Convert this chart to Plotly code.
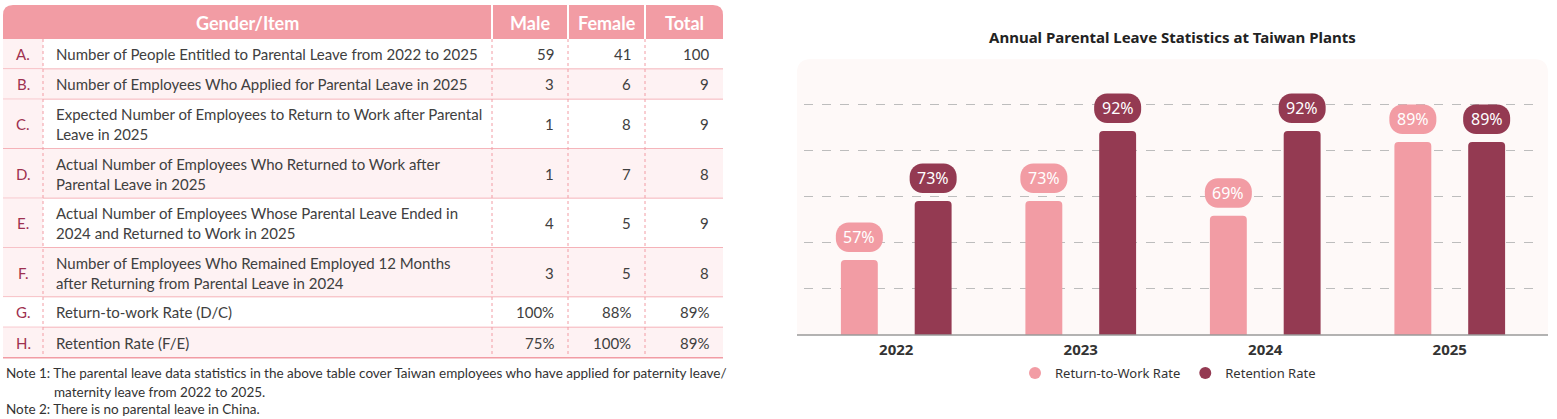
import plotly.graph_objects as go

W, H = 1557, 419

# ---------------- data ----------------
years = ["2022", "2023", "2024", "2025"]
return_rate = [57, 73, 69, 89]
retention_rate = [73, 92, 92, 89]
series_names = ["Return-to-Work Rate", "Retention Rate"]
chart_title = "Annual Parental Leave Statistics at Taiwan Plants"

header_labels = ["Gender/Item", "Male", "Female", "Total"]
row_letters = ["A.", "B.", "C.", "D.", "E.", "F.", "G.", "H."]
row_items = [
    ["Number of People Entitled to Parental Leave from 2022 to 2025"],
    ["Number of Employees Who Applied for Parental Leave in 2025"],
    ["Expected Number of Employees to Return to Work after Parental", "Leave in 2025"],
    ["Actual Number of Employees Who Returned to Work after", "Parental Leave in 2025"],
    ["Actual Number of Employees Whose Parental Leave Ended in", "2024 and Returned to Work in 2025"],
    ["Number of Employees Who Remained Employed 12 Months", "after Returning from Parental Leave in 2024"],
    ["Return-to-work Rate (D/C)"],
    ["Retention Rate (F/E)"],
]
male_values = ["59", "3", "1", "1", "4", "3", "100%", "75%"]
female_values = ["41", "6", "8", "7", "5", "5", "88%", "100%"]
total_values = ["100", "9", "9", "8", "9", "8", "89%", "89%"]
notes = [
    "Note 1: The parental leave data statistics in the above table cover Taiwan employees who have applied for paternity leave/",
    "maternity leave from 2022 to 2025.",
    "Note 2: There is no parental leave in China.",
]

# ---------------- styles ----------------
PINK = "#F29CA4"
DARK = "#943A52"
ROW_PINK = "#FEF2F3"
LETTER = "#9E3150"
TXT = "#404040"
TFONT = "Lato"
CFONT = "Noto Sans"


def X(px):
    return px / W


def Y(py):
    return 1 - py / H


shapes = []
annotations = []

# ---------------- table ----------------
tx0, tx1 = 3, 723
col_edges = [3, 43, 492, 568, 645, 723]
head_top, head_bot = 5, 39
line_h_single, line_h_double = 30.3, 49.4

# header with rounded top corners
r = 10
shapes.append(dict(
    type="path", xref="paper", yref="paper", layer="below",
    path=(f"M {X(tx0)},{Y(head_bot)} L {X(tx0)},{Y(head_top + r)} "
          f"Q {X(tx0)},{Y(head_top)} {X(tx0 + r)},{Y(head_top)} "
          f"L {X(tx1 - r)},{Y(head_top)} Q {X(tx1)},{Y(head_top)} {X(tx1)},{Y(head_top + r)} "
          f"L {X(tx1)},{Y(head_bot)} Z"),
    fillcolor=PINK, line=dict(width=0)))
for cx in col_edges[2:5]:
    shapes.append(dict(type="line", xref="paper", yref="paper", layer="below",
                       x0=X(cx), x1=X(cx), y0=Y(head_top), y1=Y(head_bot),
                       line=dict(color="white", width=2)))
head_centers = [(col_edges[0] + col_edges[2]) / 2] + [
    (col_edges[i] + col_edges[i + 1]) / 2 for i in range(2, 5)]
for lab, cx in zip(header_labels, head_centers):
    annotations.append(dict(text=f"<b>{lab}</b>", xref="paper", yref="paper",
                            x=X(cx), y=Y((head_top + head_bot) / 2 + 1), showarrow=False,
                            xanchor="center", yanchor="middle",
                            font=dict(family=TFONT, size=18, color="white")))

# body rows
y = head_bot
for i, item in enumerate(row_items):
    h = line_h_single if len(item) == 1 else line_h_double
    top, bot = y, y + h
    mid = (top + bot) / 2
    row_fill = ROW_PINK if i % 2 == 1 else "white"
    shapes.append(dict(type="rect", xref="paper", yref="paper", layer="below",
                       x0=X(tx0), x1=X(tx1), y0=Y(top), y1=Y(bot),
                       fillcolor=row_fill, line=dict(width=0)))
    letter_fill = "white" if row_letters[i] == "G." else ROW_PINK
    shapes.append(dict(type="rect", xref="paper", yref="paper", layer="below",
                       x0=X(col_edges[0]), x1=X(col_edges[1]), y0=Y(top), y1=Y(bot),
                       fillcolor=letter_fill, line=dict(width=0)))
    # letter
    annotations.append(dict(text=row_letters[i], xref="paper", yref="paper",
                            x=X((col_edges[0] + col_edges[1]) / 2), y=Y(mid),
                            showarrow=False, xanchor="center", yanchor="middle",
                            font=dict(family=TFONT, size=15, color=LETTER)))
    # item text
    annotations.append(dict(text="<br>".join(item), xref="paper", yref="paper",
                            x=X(col_edges[1] + 11), y=Y(mid), align="left",
                            showarrow=False, xanchor="left", yanchor="middle",
                            font=dict(family=TFONT, size=15, color=TXT)))
    for vals, ci in ((male_values, 3), (female_values, 4), (total_values, 5)):
        annotations.append(dict(text=vals[i], xref="paper", yref="paper",
                                x=X(col_edges[ci] - 12), y=Y(mid),
                                showarrow=False, xanchor="right", yanchor="middle",
                                font=dict(family=TFONT, size=15, color=TXT)))
    # bottom border
    shapes.append(dict(type="line", xref="paper", yref="paper", layer="below",
                       x0=X(tx0), x1=X(tx1), y0=Y(bot), y1=Y(bot),
                       line=dict(color=PINK, width=1.5)))
    y = bot

table_bottom = y
for cx in col_edges[1:5]:
    shapes.append(dict(type="line", xref="paper", yref="paper", layer="below",
                       x0=X(cx), x1=X(cx), y0=Y(head_bot), y1=Y(table_bottom),
                       line=dict(color=PINK, width=1, dash="dot")))

# notes
note_pos = [(4, 373), (52, 392), (4, 409)]
for txt, (nx, ny) in zip(notes, note_pos):
    annotations.append(dict(text=txt, xref="paper", yref="paper", x=X(nx), y=Y(ny),
                            showarrow=False, xanchor="left", yanchor="middle",
                            font=dict(family=TFONT, size=13.5, color="#333333")))

# ---------------- chart ----------------
panel_l, panel_r, panel_t, panel_b = 797, 1548, 59, 335
pr = 14
shapes.append(dict(
    type="path", xref="paper", yref="paper", layer="below",
    path=(f"M {X(panel_l)},{Y(panel_b)} L {X(panel_l)},{Y(panel_t + pr)} "
          f"Q {X(panel_l)},{Y(panel_t)} {X(panel_l + pr)},{Y(panel_t)} "
          f"L {X(panel_r - pr)},{Y(panel_t)} Q {X(panel_r)},{Y(panel_t)} {X(panel_r)},{Y(panel_t + pr)} "
          f"L {X(panel_r)},{Y(panel_b)} Z"),
    fillcolor="#FEF9F8", line=dict(width=0)))
shapes.append(dict(type="line", xref="paper", yref="paper", layer="above",
                   x0=X(panel_l), x1=X(panel_r), y0=Y(panel_b), y1=Y(panel_b),
                   line=dict(color="#9A9A9A", width=1.5)))

xpos = list(range(len(years)))
fig = go.Figure()
fig.add_trace(go.Bar(x=xpos, y=return_rate, width=0.2, offset=-0.3,
                     marker=dict(color=PINK, line=dict(width=0)), name=series_names[0],
                     showlegend=False, hoverinfo="skip"))
fig.add_trace(go.Bar(x=xpos, y=retention_rate, width=0.2, offset=0.1,
                     marker=dict(color=DARK, line=dict(width=0)), name=series_names[1],
                     showlegend=False, hoverinfo="skip"))
for nm, col in zip(series_names, (PINK, DARK)):
    fig.add_trace(go.Scatter(x=[None], y=[None], mode="markers", name=nm,
                             marker=dict(symbol="circle", size=13, color=col)))


def pill_path(w=47, h=29.5, gap=8, rr=13):
    k = 0.5523 * rr
    hw = w / 2
    y0, y1 = gap, gap + h
    return (f"M {-hw + rr},{y0} L {hw - rr},{y0} "
            f"C {hw - rr + k},{y0} {hw},{y0 + rr - k} {hw},{y0 + rr} "
            f"L {hw},{y1 - rr} "
            f"C {hw},{y1 - rr + k} {hw - rr + k},{y1} {hw - rr},{y1} "
            f"L {-hw + rr},{y1} "
            f"C {-hw + rr - k},{y1} {-hw},{y1 - rr + k} {-hw},{y1 - rr} "
            f"L {-hw},{y0 + rr} "
            f"C {-hw},{y0 + rr - k} {-hw + rr - k},{y0} {-hw + rr},{y0} Z")


for vals, off, col in ((return_rate, -0.2, PINK), (retention_rate, 0.2, DARK)):
    for xi, v in zip(xpos, vals):
        shapes.append(dict(type="path", xref="x", yref="y", xsizemode="pixel",
                           ysizemode="pixel", xanchor=xi + off, yanchor=v,
                           path=pill_path(), fillcolor=col, line=dict(width=0),
                           layer="above"))
        annotations.append(dict(text=f"{v}%", xref="x", yref="y", x=xi + off, y=v,
                                yshift=23, showarrow=False, xanchor="center",
                                yanchor="middle",
                                font=dict(family=CFONT, size=16, color="white")))

annotations.append(dict(text=f"<b>{chart_title}</b>", xref="paper", yref="paper",
                        x=X(1172), y=Y(37), showarrow=False, xanchor="center",
                        yanchor="middle", font=dict(family=CFONT, size=15, color="#222222")))

y_lo = 36.7
px_per = 3.69
y_hi = y_lo + (panel_b - panel_t) / px_per

fig.update_layout(
    width=W, height=H, margin=dict(l=0, r=0, t=0, b=0),
    paper_bgcolor="white", plot_bgcolor="rgba(0,0,0,0)",
    barcornerradius=4,
    showlegend=True,
    legend=dict(orientation="h", x=X(1168), xanchor="center", y=Y(373), yanchor="middle",
                font=dict(family=CFONT, size=13, color="#333333"),
                itemsizing="constant", itemwidth=30, bgcolor="rgba(0,0,0,0)"),
    xaxis=dict(domain=[X(804), X(1542)], range=[-0.5, 3.5], tickvals=xpos, ticktext=years,
               showgrid=False, zeroline=False, showline=False, ticks="",
               tickfont=dict(family=CFONT, size=15, color="#333333", weight="bold"),
               ticklabelstandoff=4, fixedrange=True),
    yaxis=dict(domain=[Y(panel_b), Y(panel_t)], range=[y_lo, y_hi],
               tickvals=[49.3, 61.8, 74.3, 86.8, 99.3], showticklabels=False,
               showgrid=True, gridcolor="#BDBDBD", griddash="dash", gridwidth=1,
               zeroline=False, showline=False, fixedrange=True),
    shapes=shapes, annotations=annotations,
)

fig.write_html("out.html", config={"displayModeBar": False},
               post_script="document.body.style.margin='0';")
